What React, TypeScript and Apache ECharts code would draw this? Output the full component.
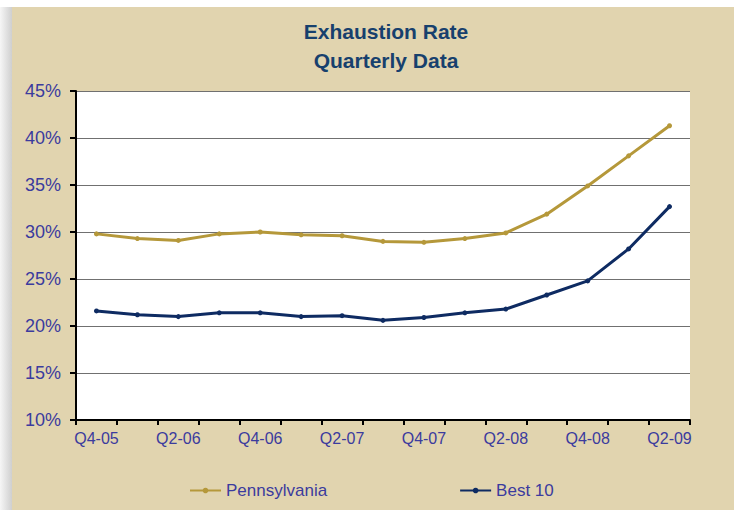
import React, { useEffect, useRef } from "react";
import * as echarts from "echarts";

const categories = [
  "Q4-05", "Q1-06", "Q2-06", "Q3-06", "Q4-06", "Q1-07", "Q2-07", "Q3-07",
  "Q4-07", "Q1-08", "Q2-08", "Q3-08", "Q4-08", "Q1-09", "Q2-09",
];
const pennsylvania = [29.8, 29.3, 29.1, 29.8, 30.0, 29.7, 29.6, 29.0, 28.9, 29.3, 29.9, 31.9, 34.9, 38.1, 41.3];
const best10 = [21.6, 21.2, 21.0, 21.4, 21.4, 21.0, 21.1, 20.6, 20.9, 21.4, 21.8, 23.3, 24.8, 28.2, 32.7];

const yMin = 10;
const yMax = 45;
const yInterval = 5;

const W = 734;
const H = 510;

export default function App() {
  const ref = useRef<HTMLDivElement>(null);
  useEffect(() => {
    document.body.style.margin = "0";
    if (!ref.current) return;
    const chart = echarts.init(ref.current, undefined, { renderer: "svg" });
    const labelColor = "#3B3B9E";
    chart.setOption({
      animation: false,
      backgroundColor: "#ffffff",
      graphic: [
        {
          type: "rect",
          z: -10,
          silent: true,
          shape: { x: 0, y: 7, width: 12, height: H - 7 },
          style: {
            fill: new echarts.graphic.LinearGradient(0, 0, 1, 0, [
              { offset: 0, color: "#f6f6f6" },
              { offset: 1, color: "#cfcfcf" },
            ]),
          },
        },
        {
          type: "rect",
          z: -10,
          silent: true,
          shape: { x: 12, y: 7, width: W - 12, height: H - 7 },
          style: { fill: "#E1D4AF" },
        },
        {
          type: "text",
          z: 10,
          x: 386,
          y: 17,
          style: {
            text: "Exhaustion Rate\nQuarterly Data",
            fill: "#17406D",
            font: "bold 21px 'Liberation Sans', Arial, sans-serif",
            textAlign: "center",
            lineHeight: 29,
          },
        },
      ],
      grid: {
        left: 76,
        right: 44,
        top: 91,
        bottom: 90,
        show: true,
        backgroundColor: "#ffffff",
        borderWidth: 0,
        containLabel: false,
      },
      legend: {
        left: 184,
        top: 477,
        itemWidth: 31,
        itemHeight: 7,
        itemGap: 132,
        textStyle: {
          color: labelColor,
          fontSize: 17,
          fontFamily: "'Liberation Sans', Arial, sans-serif",
        },
        data: ["Pennsylvania", "Best 10"],
      },
      xAxis: {
        type: "category",
        data: categories,
        boundaryGap: true,
        axisLine: { lineStyle: { color: "#000000", width: 2 } },
        axisTick: { show: true, interval: 0, length: 5, lineStyle: { color: "#000000", width: 2 } },
        axisLabel: {
          interval: 1,
          margin: 10,
          color: labelColor,
          fontSize: 16,
          fontFamily: "'Liberation Sans', Arial, sans-serif",
        },
        splitLine: { show: false },
      },
      yAxis: {
        type: "value",
        min: yMin,
        max: yMax,
        interval: yInterval,
        axisLine: { show: true, lineStyle: { color: "#000000", width: 2 } },
        axisTick: { show: true, length: 6, lineStyle: { color: "#000000", width: 2 } },
        axisLabel: {
          margin: 15,
          color: labelColor,
          fontSize: 18,
          fontFamily: "'Liberation Sans', Arial, sans-serif",
          formatter: (v: number) => `${v}%`,
        },
        splitLine: { show: true, lineStyle: { color: "#707070", width: 1 } },
      },
      series: [
        {
          name: "Pennsylvania",
          type: "line",
          data: pennsylvania,
          symbol: "circle",
          symbolSize: 5,
          lineStyle: { color: "#B5983A", width: 3 },
          itemStyle: { color: "#B5983A" },
        },
        {
          name: "Best 10",
          type: "line",
          data: best10,
          symbol: "circle",
          symbolSize: 5,
          lineStyle: { color: "#0E2B62", width: 3 },
          itemStyle: { color: "#0E2B62" },
        },
      ],
    });
    return () => chart.dispose();
  }, []);
  return <div ref={ref} style={{ width: W, height: H }} />;
}
